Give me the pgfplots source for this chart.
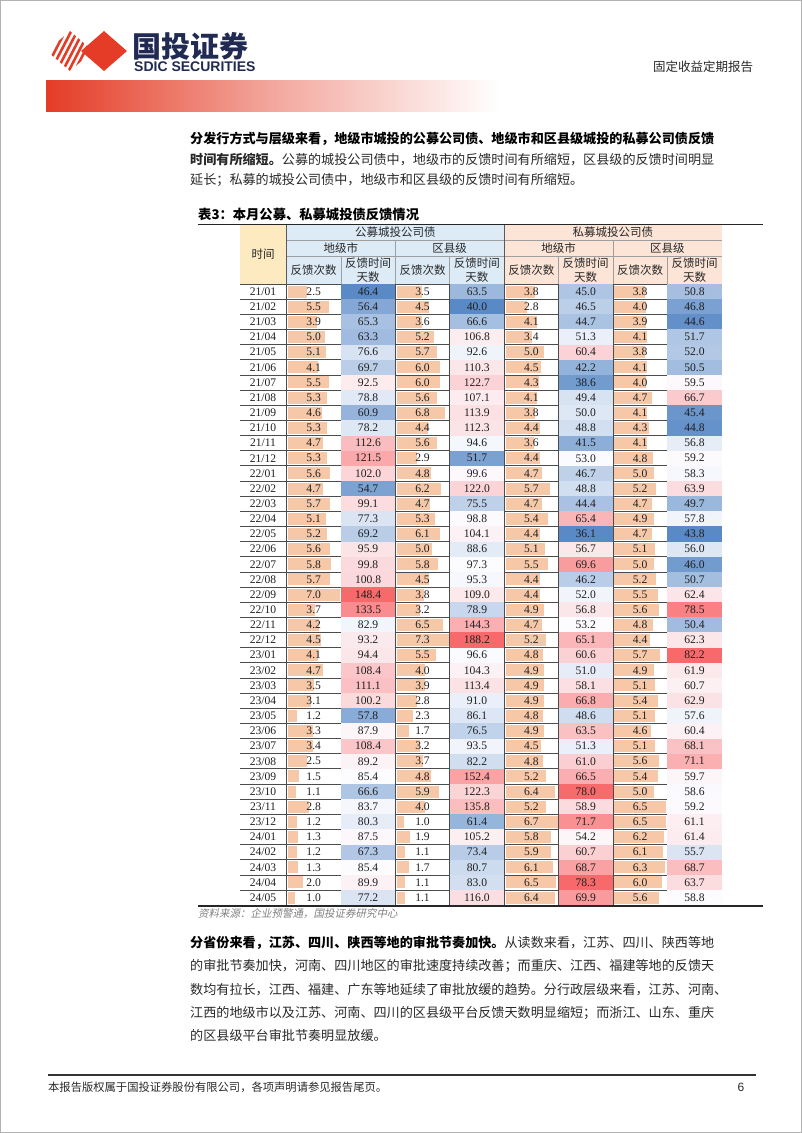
\documentclass[border=0pt]{standalone}
\usepackage{pgfplots}
\pgfplotsset{compat=1.18}
\usepackage{pgfplotstable}
\usepackage{fontspec}
\setmainfont{Liberation Serif}
\newfontfamily\cjk{Noto Sans CJK SC}
\newfontfamily\cjksl[FakeSlant=0.2]{Noto Sans CJK SC}
\newfontfamily\lsans{Liberation Sans}
\XeTeXlinebreaklocale "zh"
\XeTeXlinebreakskip=0pt plus 2pt minus 0.4pt

\definecolor{logored}{RGB}{228,60,38}
\definecolor{navy}{RGB}{32,42,82}
\definecolor{hdyel}{RGB}{253,234,192}
\definecolor{hdblue}{RGB}{221,235,247}
\definecolor{hdpeach}{RGB}{252,228,214}
\definecolor{barcol}{RGB}{247,200,167}
\definecolor{txt}{RGB}{40,40,40}

\pgfdeclareplotmark{cell}{\pgfpathrectangle{\pgfpoint{-27.2bp}{-7.575bp}}{\pgfpoint{54.4bp}{15.15bp}}\pgfusepathqfill}

% r: row, t: month, a = 公募地级市, b = 公募区县级, c = 私募地级市, d = 私募区县级
% 1 = 反馈次数, 2 = 反馈时间天数
\pgfplotstableread{
r t a1 a2 b1 b2 c1 c2 d1 d2
0 21/01 2.5 46.4 3.5 63.5 3.8 45.0 3.8 50.8
1 21/02 5.5 56.4 4.5 40.0 2.8 46.5 4.0 46.8
2 21/03 3.9 65.3 3.6 66.6 4.1 44.7 3.9 44.6
3 21/04 5.0 63.3 5.2 106.8 3.4 51.3 4.1 51.7
4 21/05 5.1 76.6 5.7 92.6 5.0 60.4 3.8 52.0
5 21/06 4.1 69.7 6.0 110.3 4.5 42.2 4.1 50.5
6 21/07 5.5 92.5 6.0 122.7 4.3 38.6 4.0 59.5
7 21/08 5.3 78.8 5.6 107.1 4.1 49.4 4.7 66.7
8 21/09 4.6 60.9 6.8 113.9 3.8 50.0 4.1 45.4
9 21/10 5.3 78.2 4.4 112.3 4.4 48.8 4.3 44.8
10 21/11 4.7 112.6 5.6 94.6 3.6 41.5 4.1 56.8
11 21/12 5.3 121.5 2.9 51.7 4.4 53.0 4.8 59.2
12 22/01 5.6 102.0 4.8 99.6 4.7 46.7 5.0 58.3
13 22/02 4.7 54.7 6.2 122.0 5.7 48.8 5.2 63.9
14 22/03 5.7 99.1 4.7 75.5 4.7 44.4 4.7 49.7
15 22/04 5.1 77.3 5.3 98.8 5.4 65.4 4.9 57.8
16 22/05 5.2 69.2 6.1 104.1 4.4 36.1 4.7 43.8
17 22/06 5.6 95.9 5.0 88.6 5.1 56.7 5.1 56.0
18 22/07 5.8 99.8 5.8 97.3 5.5 69.6 5.0 46.0
19 22/08 5.7 100.8 4.5 95.3 4.4 46.2 5.2 50.7
20 22/09 7.0 148.4 3.8 109.0 4.4 52.0 5.5 62.4
21 22/10 3.7 133.5 3.2 78.9 4.9 56.8 5.6 78.5
22 22/11 4.2 82.9 6.5 144.3 4.7 53.2 4.8 50.4
23 22/12 4.5 93.2 7.3 188.2 5.2 65.1 4.4 62.3
24 23/01 4.1 94.4 5.5 96.6 4.8 60.6 5.7 82.2
25 23/02 4.7 108.4 4.0 104.3 4.9 51.0 4.9 61.9
26 23/03 3.5 111.1 3.9 113.4 4.9 58.1 5.1 60.7
27 23/04 3.1 100.2 2.8 91.0 4.9 66.8 5.4 62.9
28 23/05 1.2 57.8 2.3 86.1 4.8 48.6 5.1 57.6
29 23/06 3.3 87.9 1.7 76.5 4.9 63.5 4.6 60.4
30 23/07 3.4 108.4 3.2 93.5 4.5 51.3 5.1 68.1
31 23/08 2.5 89.2 3.7 82.2 4.8 61.0 5.6 71.1
32 23/09 1.5 85.4 4.8 152.4 5.2 66.5 5.4 59.7
33 23/10 1.1 66.6 5.9 122.3 6.4 78.0 5.0 58.6
34 23/11 2.8 83.7 4.0 135.8 5.2 58.9 6.5 59.2
35 23/12 1.2 80.3 1.0 61.4 6.7 71.7 6.5 61.1
36 24/01 1.3 87.5 1.9 105.2 5.8 54.2 6.2 61.4
37 24/02 1.2 67.3 1.1 73.4 5.9 60.7 6.1 55.7
38 24/03 1.3 85.4 1.7 80.7 6.1 68.7 6.3 68.7
39 24/04 2.0 89.9 1.1 83.0 6.5 78.3 6.0 63.7
40 24/05 1.0 77.2 1.1 116.0 6.4 69.9 5.6 58.8
}\tbl

\pgfplotsset{
  lbl/.style={only marks, mark=none, nodes near coords, nodes near coords align=center,
    point meta=explicit symbolic,
    every node near coord/.append style={font=\fontsize{11.6bp}{11.6bp}\selectfont, text=black!88, inner sep=0pt}},
  heat/.style={scatter, only marks, mark=cell, point meta=explicit},
  dbar/.style={draw=none, mark=none, error bars/x dir=plus, error bars/x explicit,
    error bars/error mark=none, error bars/error bar style={line width=12bp, draw=barcol, mark=none}},
}

\newcommand{\jline}[1]{\makebox[532bp][s]{#1}}

\begin{document}
\begin{tikzpicture}
\useasboundingbox (0,0) rectangle (802bp,1133bp);
\begin{axis}[
  x=1bp, y=1bp, y dir=reverse,
  xmin=0, xmax=802, ymin=0, ymax=1133,
  scale only axis, axis lines=none, clip=false,
  enlargelimits=false,
  point meta min=0, point meta max=1,
  colormap={bwr}{rgb255=(90,138,198) rgb255=(252,252,255) rgb255=(248,105,107)},
]
% page frame, header, logo
\draw[gray!60, line width=1bp] (0.5,0.5) rectangle (801.5,1132.5);
\shade[left color=logored, right color=white, middle color=logored!45] (46,80) rectangle (500,111);
\fill[logored] (104,31) -- (127,51) -- (104,71) -- (81,51) -- cycle;
\begin{scope}
  \clip (70,31) -- (93,51) -- (70,71) -- (47,51) -- cycle;
  \pgfplotsinvokeforeach{0,...,7}{
    \draw[logored, line width=2.6bp] (40+6*#1,80) -- (70+6*#1,22);
  }
\end{scope}
\node[anchor=west, inner sep=0pt, text=navy] at (132,46) {\cjk\bfseries\fontsize{29bp}{29bp}\selectfont 国投证券};
\node[anchor=west, inner sep=0pt, text=navy] at (134,67) {\lsans\bfseries\fontsize{14bp}{14bp}\selectfont SDIC SECURITIES};
\node[inner sep=0pt, text=txt] at (703,67) {\cjk\fontsize{12.5bp}{12.5bp}\selectfont 固定收益定期报告};

% paragraph 1
\node[anchor=west, inner sep=0pt, text=black] at (190,139) {\cjk\fontsize{13.1bp}{13.1bp}\selectfont\jline{\bfseries 分发行方式与层级来看，地级市城投的公募公司债、地级市和区县级城投的私募公司债反馈}};
\node[anchor=west, inner sep=0pt, text=txt] at (190,160) {\cjk\fontsize{13.1bp}{13.1bp}\selectfont\jline{{\bfseries 时间有所缩短。}公募的城投公司债中，地级市的反馈时间有所缩短，区县级的反馈时间明显}};
\node[anchor=west, inner sep=0pt, text=txt] at (190,180) {\cjk\fontsize{13.1bp}{13.1bp}\selectfont 延长；私募的城投公司债中，地级市和区县级的反馈时间有所缩短。};

% table title and rules
\node[anchor=west, inner sep=0pt, text=black] at (198,214) {\cjk\bfseries\fontsize{13.3bp}{13.3bp}\selectfont 表3：本月公募、私募城投债反馈情况};
\draw[black!85, line width=1.6bp] (198,224.5) -- (763,224.5);
\draw[black!85, line width=2bp] (198,906) -- (763,906);

% header cells
\fill[hdyel] (240,225) rectangle (286.5,284);
\fill[hdblue] (286.5,225) rectangle (504.1,284);
\fill[hdpeach] (504.1,225) rectangle (721.7,284);
\draw[gray!75, line width=0.7bp] (286.5,240) -- (721.7,240);
\draw[gray!75, line width=0.7bp] (286.5,256) -- (721.7,256);
\draw[black!65, line width=0.8bp] (286.5,225) -- (286.5,284);
\draw[black!65, line width=0.8bp] (504.1,225) -- (504.1,284);
\pgfplotsinvokeforeach{395.3,612.9}{\draw[gray!75, line width=0.7bp] (#1,240) -- (#1,284);}
\pgfplotsinvokeforeach{340.9,449.7,558.5,667.3}{\draw[gray!75, line width=0.7bp] (#1,256) -- (#1,284);}
\node[text=txt, inner sep=0pt] at (263,254.5) {\cjk\fontsize{11.5bp}{11.5bp}\selectfont 时间};
\node[text=txt, inner sep=0pt] at (395.3,232.5) {\cjk\fontsize{11.5bp}{11.5bp}\selectfont 公募城投公司债};
\node[text=txt, inner sep=0pt] at (612.9,232.5) {\cjk\fontsize{11.5bp}{11.5bp}\selectfont 私募城投公司债};
\pgfplotsinvokeforeach{340.9,558.5}{\node[text=txt, inner sep=0pt] at (#1,248) {\cjk\fontsize{11.5bp}{11.5bp}\selectfont 地级市};}
\pgfplotsinvokeforeach{449.7,667.3}{\node[text=txt, inner sep=0pt] at (#1,248) {\cjk\fontsize{11.5bp}{11.5bp}\selectfont 区县级};}
\pgfplotsinvokeforeach{313.7,422.5,531.3,640.1}{\node[text=txt, inner sep=0pt] at (#1,270) {\cjk\fontsize{11.5bp}{11.5bp}\selectfont 反馈次数};}
\pgfplotsinvokeforeach{368.1,476.9,585.7,694.5}{
  \node[text=txt, inner sep=0pt] at (#1,263) {\cjk\fontsize{11.5bp}{11.5bp}\selectfont 反馈时间};
  \node[text=txt, inner sep=0pt] at (#1,277.5) {\cjk\fontsize{11.5bp}{11.5bp}\selectfont 天数};
}

% heat-map cells (3-colour scale: min / median / max of each column)
\addplot[heat] table[x expr=368.1, y expr=291.575+15.15*\thisrow{r},
  meta expr={ifthenelse(\thisrow{a2}<85.4,0.5*(\thisrow{a2}-46.4)/39,0.5+0.5*(\thisrow{a2}-85.4)/63)}] {\tbl};
\addplot[heat] table[x expr=476.9, y expr=291.575+15.15*\thisrow{r},
  meta expr={ifthenelse(\thisrow{b2}<97.3,0.5*(\thisrow{b2}-40.0)/57.3,0.5+0.5*(\thisrow{b2}-97.3)/90.9)}] {\tbl};
\addplot[heat] table[x expr=585.7, y expr=291.575+15.15*\thisrow{r},
  meta expr={ifthenelse(\thisrow{c2}<53.2,0.5*(\thisrow{c2}-36.1)/17.1,0.5+0.5*(\thisrow{c2}-53.2)/25.1)}] {\tbl};
\addplot[heat] table[x expr=694.5, y expr=291.575+15.15*\thisrow{r},
  meta expr={ifthenelse(\thisrow{d2}<58.8,0.5*(\thisrow{d2}-43.8)/15,0.5+0.5*(\thisrow{d2}-58.8)/23.4)}] {\tbl};

% data bars for the counts
\addplot[dbar] table[x expr=288, y expr=291.575+15.15*\thisrow{r}, x error expr=\thisrow{a1}*52/7.0] {\tbl};
\addplot[dbar] table[x expr=396.8, y expr=291.575+15.15*\thisrow{r}, x error expr=\thisrow{b1}*52/7.3] {\tbl};
\addplot[dbar] table[x expr=505.6, y expr=291.575+15.15*\thisrow{r}, x error expr=\thisrow{c1}*52/6.7] {\tbl};
\addplot[dbar] table[x expr=614.4, y expr=291.575+15.15*\thisrow{r}, x error expr=\thisrow{d1}*52/6.5] {\tbl};

% grid of the body
\pgfplotsinvokeforeach{0,...,40}{\draw[black!70, line width=0.7bp] (240,284+15.15*#1) -- (721.7,284+15.15*#1);}
\pgfplotsinvokeforeach{286.5,340.9,395.3,449.7,504.1,558.5,612.9,667.3}{\draw[black!70, line width=0.7bp] (#1,284) -- (#1,905);}

% numbers
\addplot[lbl] table[x expr=263, y expr=291.575+15.15*\thisrow{r}, meta=t] {\tbl};
\addplot[lbl] table[x expr=313.7, y expr=291.575+15.15*\thisrow{r}, meta=a1] {\tbl};
\addplot[lbl] table[x expr=368.1, y expr=291.575+15.15*\thisrow{r}, meta=a2] {\tbl};
\addplot[lbl] table[x expr=422.5, y expr=291.575+15.15*\thisrow{r}, meta=b1] {\tbl};
\addplot[lbl] table[x expr=476.9, y expr=291.575+15.15*\thisrow{r}, meta=b2] {\tbl};
\addplot[lbl] table[x expr=531.3, y expr=291.575+15.15*\thisrow{r}, meta=c1] {\tbl};
\addplot[lbl] table[x expr=585.7, y expr=291.575+15.15*\thisrow{r}, meta=c2] {\tbl};
\addplot[lbl] table[x expr=640.1, y expr=291.575+15.15*\thisrow{r}, meta=d1] {\tbl};
\addplot[lbl] table[x expr=694.5, y expr=291.575+15.15*\thisrow{r}, meta=d2] {\tbl};

% source and paragraph 2
\node[anchor=west, inner sep=0pt, text=gray] at (198,914) {\cjksl\fontsize{10.5bp}{10.5bp}\selectfont 资料来源：企业预警通，国投证券研究中心};
\node[anchor=west, inner sep=0pt, text=black] at (190,943) {\cjk\fontsize{13.1bp}{13.1bp}\selectfont\jline{{\bfseries 分省份来看，江苏、四川、陕西等地的审批节奏加快。}{\color{txt}从读数来看，江苏、四川、陕西等地}}};
\node[anchor=west, inner sep=0pt, text=txt] at (190,966) {\cjk\fontsize{13.1bp}{13.1bp}\selectfont\jline{的审批节奏加快，河南、四川地区的审批速度持续改善；而重庆、江西、福建等地的反馈天}};
\node[anchor=west, inner sep=0pt, text=txt] at (190,989.5) {\cjk\fontsize{13.1bp}{13.1bp}\selectfont\jline{数均有拉长，江西、福建、广东等地延续了审批放缓的趋势。分行政层级来看，江苏、河南、}};
\node[anchor=west, inner sep=0pt, text=txt] at (190,1013) {\cjk\fontsize{13.1bp}{13.1bp}\selectfont\jline{江西的地级市以及江苏、河南、四川的区县级平台反馈天数明显缩短；而浙江、山东、重庆}};
\node[anchor=west, inner sep=0pt, text=txt] at (190,1036) {\cjk\fontsize{13.1bp}{13.1bp}\selectfont 的区县级平台审批节奏明显放缓。};

% footer
\draw[black!80, line width=1.5bp] (48,1075) -- (756,1075);
\node[anchor=west, inner sep=0pt, text=txt] at (48,1087) {\cjk\fontsize{11.3bp}{11.3bp}\selectfont 本报告版权属于国投证券股份有限公司，各项声明请参见报告尾页。};
\node[inner sep=0pt, text=txt] at (741,1087) {\lsans\fontsize{12bp}{12bp}\selectfont 6};
\end{axis}
\end{tikzpicture}
\end{document}
